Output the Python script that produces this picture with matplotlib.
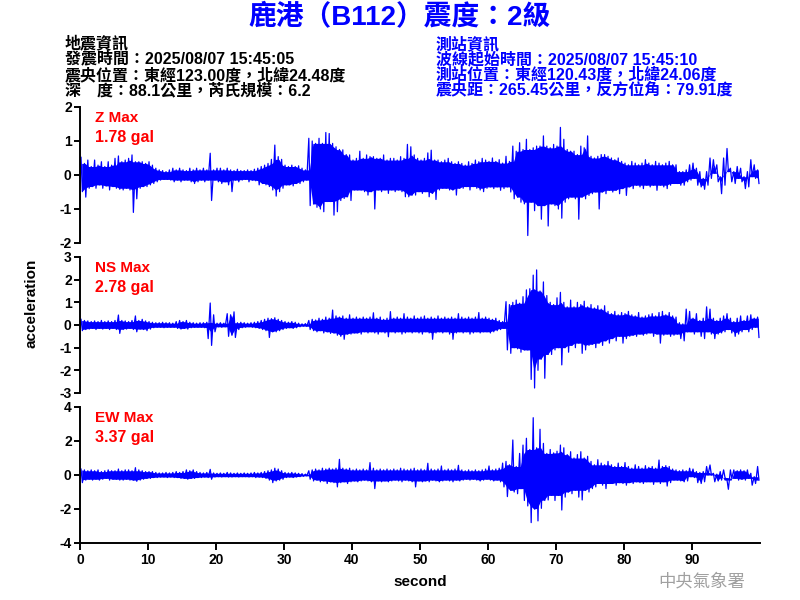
import numpy as np
import matplotlib
matplotlib.use("Agg")
import matplotlib.pyplot as plt

plt.rcParams['font.family'] = ['Liberation Sans', 'Noto Sans CJK TC', 'DejaVu Sans']
plt.rcParams['axes.unicode_minus'] = False

# ---------------- data (per 0.5 s bin: upper / lower peak, gal) ----------------
bin_step = 0.5
z_hi = [0.52,0.34,0.44,0.25,0.44,0.29,0.39,0.25,0.39,0.29,
        0.49,0.56,0.39,0.44,0.49,0.59,0.39,0.39,0.39,0.34,
        0.39,0.29,0.20,0.15,0.13,0.10,0.15,0.20,0.15,0.20,
        0.15,0.13,0.20,0.15,0.20,0.15,0.20,0.15,0.64,0.15,
        0.20,0.20,0.15,0.20,0.15,0.13,0.17,0.13,0.13,0.15,
        0.13,0.17,0.20,0.25,0.29,0.34,0.46,0.88,0.54,0.46,
        0.29,0.25,0.29,0.25,0.27,0.20,0.15,1.08,1.00,0.93,
        1.08,0.93,1.25,1.22,0.93,0.83,0.75,0.74,0.60,0.59,
        0.44,0.49,0.70,0.49,0.59,0.54,0.54,0.49,0.49,0.59,
        0.44,0.49,0.49,0.44,0.54,0.49,0.90,0.83,0.59,0.49,
        0.44,0.49,0.65,0.73,0.44,0.44,0.39,0.44,0.49,0.39,
        0.34,0.39,0.34,0.29,0.39,0.34,0.44,0.39,0.49,0.44,
        0.40,0.50,0.40,0.45,0.35,0.55,0.40,0.85,0.70,0.95,
        0.75,1.05,0.75,0.80,0.85,0.85,1.15,0.85,0.80,0.90,
        0.85,1.40,1.05,0.75,0.70,0.70,0.60,0.85,0.80,1.15,
        0.55,0.50,0.55,0.60,0.60,0.55,0.50,0.45,0.50,0.40,
        0.35,0.30,0.40,0.35,0.30,0.35,0.45,0.35,0.30,0.40,
        0.35,0.30,0.35,0.40,0.30,0.30,0.10,0.10,0.15,0.30,
        0.35,0.20,0.10,-0.10,0.10,0.50,0.45,0.30,-0.05,0.50,
        0.78,0.20,0.10,0.25,0.20,-0.05,0.10,0.45,0.30,0.15]
z_lo = [-0.49,-0.65,-0.39,-0.34,-0.39,-0.29,-0.39,-0.32,-0.44,-0.34,
        -0.39,-0.42,-0.44,-0.39,-0.44,-1.10,-0.70,-0.39,-0.34,-0.34,
        -0.29,-0.25,-0.20,-0.15,-0.13,-0.13,-0.15,-0.20,-0.15,-0.20,
        -0.15,-0.15,-0.20,-0.25,-0.20,-0.15,-0.20,-0.15,-0.75,-0.15,
        -0.20,-0.25,-0.20,-0.29,-0.49,-0.15,-0.20,-0.15,-0.13,-0.20,
        -0.15,-0.17,-0.29,-0.25,-0.29,-0.34,-0.44,-0.62,-0.49,-0.39,
        -0.29,-0.29,-0.32,-0.25,-0.25,-0.20,-0.15,-0.90,-0.85,-0.95,
        -1.00,-1.08,-0.78,-0.78,-1.18,-1.08,-0.75,-0.69,-0.64,-0.75,
        -0.44,-0.44,-0.44,-0.49,-0.59,-0.49,-1.00,-0.44,-0.49,-0.44,
        -0.54,-0.44,-0.49,-0.44,-0.49,-0.64,-0.64,-0.59,-0.59,-0.49,
        -0.54,-0.49,-0.64,-0.54,-0.72,-0.44,-0.39,-0.39,-0.44,-0.44,
        -0.59,-0.39,-0.39,-0.34,-0.44,-0.34,-0.39,-0.44,-0.49,-0.39,
        -0.35,-0.40,-0.35,-0.45,-0.40,-0.35,-0.50,-0.70,-0.65,-0.80,
        -0.85,-1.78,-0.80,-1.05,-0.90,-1.30,-0.90,-1.50,-0.85,-0.90,
        -1.00,-1.27,-0.80,-0.70,-0.65,-0.70,-1.30,-0.65,-0.70,-0.60,
        -0.55,-0.50,-1.00,-0.50,-0.55,-0.45,-0.50,-0.45,-0.55,-0.40,
        -0.60,-0.35,-0.40,-0.30,-0.35,-0.40,-0.30,-0.35,-0.30,-0.45,
        -0.30,-0.35,-0.40,-0.30,-0.25,-0.25,-0.30,-0.30,-0.20,-0.15,
        -0.10,-0.30,-0.35,-0.42,-0.30,-0.10,0.05,-0.20,-0.55,-0.30,
        0.10,-0.20,-0.25,-0.10,-0.20,-0.40,-0.35,-0.05,-0.10,-0.25]

ns_hi = [0.25,0.20,0.18,0.15,0.18,0.15,0.20,0.15,0.18,0.15,
         0.20,0.44,0.20,0.18,0.15,0.20,0.40,0.20,0.25,0.18,
         0.15,0.12,0.10,0.10,0.12,0.10,0.10,0.08,0.15,0.20,
         0.15,0.20,0.12,0.10,0.08,0.10,0.10,0.12,0.97,0.45,
         0.08,0.10,0.08,0.50,0.45,0.58,0.10,0.12,0.10,0.08,
         0.10,0.12,0.15,0.20,0.25,0.30,0.28,0.32,0.25,0.20,
         0.15,0.12,0.15,0.12,0.08,0.05,0.06,0.20,0.25,0.22,
         0.30,0.25,0.35,0.30,0.66,0.40,0.35,0.40,0.30,0.45,
         0.30,0.35,0.30,0.35,0.30,0.35,0.54,0.30,0.35,0.25,
         0.30,0.59,0.30,0.35,0.30,0.50,0.35,0.30,0.40,0.30,
         0.35,0.40,0.30,0.35,0.30,0.40,0.30,0.35,0.30,0.35,
         0.30,0.50,0.35,0.30,0.35,0.30,0.35,0.55,0.30,0.35,
         0.30,0.25,0.30,0.20,0.15,1.03,0.90,1.00,1.10,0.96,
         1.25,1.55,1.60,2.20,2.43,1.50,1.90,1.30,1.00,0.90,
         1.20,1.44,1.00,0.80,1.10,0.80,1.00,0.90,1.05,0.80,
         0.90,0.75,0.85,0.70,0.85,0.60,0.50,0.60,0.45,0.55,
         0.50,0.60,0.45,0.40,0.55,0.35,0.40,0.45,0.50,0.40,
         0.55,0.60,0.45,0.55,0.40,0.35,0.10,0.05,0.70,0.60,
         0.30,0.50,0.20,0.30,0.80,0.70,0.30,0.20,0.30,0.40,
         0.50,0.30,0.15,0.30,0.40,0.20,0.40,0.45,0.30,0.35]
ns_lo = [-0.25,-0.20,-0.18,-0.15,-0.20,-0.15,-0.18,-0.15,-0.20,-0.15,
         -0.20,-0.37,-0.20,-0.18,-0.15,-0.20,-0.30,-0.18,-0.20,-0.25,
         -0.18,-0.12,-0.10,-0.10,-0.12,-0.10,-0.10,-0.10,-0.15,-0.18,
         -0.15,-0.18,-0.12,-0.10,-0.10,-0.10,-0.12,-0.60,-0.90,-0.30,
         -0.08,-0.10,-0.08,-0.50,-0.45,-0.55,-0.20,-0.12,-0.10,-0.08,
         -0.10,-0.12,-0.15,-0.20,-0.25,-0.55,-0.30,-0.30,-0.25,-0.20,
         -0.15,-0.12,-0.15,-0.12,-0.08,-0.05,-0.06,-0.20,-0.25,-0.30,
         -0.25,-0.35,-0.30,-0.37,-0.35,-0.45,-0.50,-0.63,-0.40,-0.40,
         -0.35,-0.35,-0.40,-0.30,-0.35,-0.30,-0.35,-0.40,-0.30,-0.35,
         -0.52,-0.30,-0.35,-0.30,-0.40,-0.35,-0.30,-0.35,-0.30,-0.35,
         -0.40,-0.30,-0.35,-0.63,-0.35,-0.30,-0.35,-0.30,-0.40,-0.63,
         -0.35,-0.30,-0.35,-0.30,-0.40,-0.35,-0.30,-0.35,-0.30,-0.30,
         -0.35,-0.30,-0.25,-0.20,-0.15,-1.10,-1.25,-1.00,-1.05,-1.20,
         -1.10,-1.10,-2.40,-2.78,-2.00,-1.50,-2.35,-1.30,-1.30,-1.10,
         -1.00,-1.76,-1.00,-1.20,-0.90,-1.00,-0.80,-1.25,-1.10,-0.90,
         -0.85,-1.00,-0.80,-0.90,-0.70,-0.80,-0.60,-0.70,-0.50,-0.80,
         -0.60,-0.50,-0.45,-0.50,-0.40,-0.45,-0.40,-0.35,-0.50,-0.40,
         -0.80,-0.45,-0.40,-0.50,-0.45,-0.40,-0.60,-0.70,-0.30,-0.30,
         -0.40,-0.30,-0.50,-0.60,-0.30,-0.40,-0.60,-0.40,-0.35,-0.30,
         -0.20,-0.35,-0.50,-0.40,-0.30,-0.20,-0.30,-0.20,-0.10,-0.55]

ew_hi = [0.35,0.30,0.25,0.30,0.25,0.30,0.20,0.25,0.30,0.25,
         0.25,0.35,0.25,0.30,0.30,0.25,0.43,0.30,0.25,0.20,
         0.20,0.20,0.15,0.12,0.12,0.15,0.12,0.15,0.20,0.15,
         0.20,0.30,0.25,0.30,0.20,0.15,0.12,0.15,0.33,0.12,
         0.10,0.12,0.10,0.15,0.12,0.10,0.12,0.10,0.12,0.10,
         0.12,0.15,0.12,0.15,0.20,0.25,0.30,0.40,0.35,0.25,
         0.15,0.12,0.15,0.12,0.10,0.08,0.05,0.25,0.30,0.35,
         0.30,0.40,0.35,0.40,0.35,0.40,0.92,0.40,0.35,0.40,
         0.30,0.35,0.30,0.35,0.30,0.73,0.40,0.30,0.35,0.30,
         0.35,0.30,0.35,0.30,0.40,0.35,0.30,0.35,0.40,0.30,
         0.35,0.30,0.69,0.35,0.30,0.35,0.53,0.30,0.35,0.30,
         0.35,0.57,0.30,0.25,0.30,0.25,0.30,0.25,0.30,0.35,
         0.53,0.30,0.35,0.40,0.70,0.80,0.60,2.06,0.50,1.27,
         1.76,2.16,1.50,3.37,1.60,2.69,1.86,1.27,1.50,1.30,
         1.40,1.76,1.60,1.20,1.37,1.00,1.20,1.37,1.00,1.10,
         0.80,0.60,0.90,0.70,0.60,0.80,0.60,0.50,0.70,0.50,
         0.73,0.50,0.40,0.60,0.50,0.40,0.55,0.45,0.50,0.40,
         0.88,0.50,0.55,0.50,0.35,0.30,0.25,0.30,0.25,0.40,
         0.35,0.20,0.15,0.20,0.50,0.59,0.10,0.05,0.20,0.30,
         -0.30,0.30,0.30,0.25,0.30,0.25,0.30,0.10,-0.10,0.50]
ew_lo = [-0.45,-0.30,-0.25,-0.30,-0.25,-0.30,-0.25,-0.20,-0.30,-0.25,
         -0.25,-0.30,-0.30,-0.25,-0.30,-0.30,-0.37,-0.30,-0.25,-0.20,
         -0.20,-0.15,-0.15,-0.12,-0.12,-0.15,-0.12,-0.15,-0.15,-0.20,
         -0.20,-0.25,-0.20,-0.20,-0.15,-0.15,-0.12,-0.15,-0.25,-0.12,
         -0.10,-0.12,-0.10,-0.12,-0.12,-0.10,-0.12,-0.10,-0.10,-0.12,
         -0.10,-0.15,-0.12,-0.15,-0.20,-0.30,-0.45,-0.35,-0.30,-0.25,
         -0.15,-0.12,-0.15,-0.12,-0.10,-0.08,-0.05,-0.25,-0.35,-0.30,
         -0.40,-0.35,-0.50,-0.40,-0.45,-0.70,-0.45,-0.40,-0.50,-0.40,
         -0.35,-0.40,-0.35,-0.30,-0.35,-0.40,-0.80,-0.35,-0.40,-0.35,
         -0.40,-0.35,-0.30,-0.35,-0.40,-0.30,-0.35,-0.40,-0.70,-0.35,
         -0.40,-0.35,-0.40,-0.30,-0.35,-0.40,-0.35,-0.30,-0.35,-0.40,
         -0.30,-0.35,-0.30,-0.25,-0.30,-0.25,-0.30,-0.35,-0.30,-0.25,
         -0.30,-0.35,-0.30,-0.40,-0.70,-1.27,-0.90,-1.00,-1.10,-0.80,
         -1.50,-1.82,-2.80,-2.00,-2.70,-1.96,-1.50,-1.47,-1.20,-1.50,
         -1.20,-2.06,-1.30,-1.00,-1.10,-0.90,-1.30,-1.47,-0.90,-1.00,
         -0.80,-0.70,-0.50,-0.60,-0.80,-0.50,-0.50,-0.60,-0.45,-0.50,
         -0.60,-0.45,-0.50,-0.40,-0.45,-0.50,-0.40,-0.40,-0.55,-0.40,
         -0.50,-0.40,-0.65,-0.45,-0.30,-0.30,-0.35,-0.40,-0.35,-0.10,
         -0.15,-0.45,-0.50,-0.40,0.00,0.00,-0.40,-0.35,-0.30,-0.15,
         -0.84,-0.20,-0.20,-0.30,-0.25,-0.30,-0.20,-0.60,-0.50,-0.30]

components = ["Z", "NS", "EW"]
max_labels = ["1.78 gal", "2.78 gal", "3.37 gal"]
y_limits = [(-2, 2), (-3, 3), (-4, 4)]
y_ticks = [[-2, -1, 0, 1, 2], [-3, -2, -1, 0, 1, 2, 3], [-4, -2, 0, 2, 4]]
x_ticks = [0, 10, 20, 30, 40, 50, 60, 70, 80, 90]

title = "鹿港（B112）震度：2級"
quake_info = ["地震資訊",
              "發震時間：2025/08/07 15:45:05",
              "震央位置：東經123.00度，北緯24.48度",
              "深　度：88.1公里，芮氏規模：6.2"]
station_info = ["測站資訊",
                "波線起始時間：2025/08/07 15:45:10",
                "測站位置：東經120.43度，北緯24.06度",
                "震央距：265.45公里，反方位角：79.91度"]

series = [(z_hi, z_lo), (ns_hi, ns_lo), (ew_hi, ew_lo)]

# ---------------- figure ----------------
W, H = 800, 600
fig = plt.figure(figsize=(8, 6), dpi=100)

def fx(px):
    return px / W

def fy(py):
    return 1 - py / H

def neighbour_min(a):
    p = np.pad(a, 1, mode="edge")
    return np.minimum(np.minimum(p[:-2], p[1:-1]), p[2:])

def neighbour_max(a):
    p = np.pad(a, 1, mode="edge")
    return np.maximum(np.maximum(p[:-2], p[1:-1]), p[2:])

panel_px = [(107, 243), (257, 393), (407, 543)]
left_px, right_px = 80, 760
blue = "#0000FF"

axes = []
for i, (top, bot) in enumerate(panel_px):
    ax = fig.add_axes([fx(left_px), fy(bot), (right_px - left_px) / W, (bot - top) / H])
    hi = np.asarray(series[i][0])
    lo = np.asarray(series[i][1])
    n = len(hi)
    tc = np.arange(n) * bin_step + bin_step / 2
    # solid core: the part of the band shared with neighbouring bins
    core_hi = neighbour_min(hi)
    core_lo = neighbour_max(lo)
    ax.fill_between(tc, core_lo, core_hi, color=blue, linewidth=0)
    # trace joining the peaks of each bin (spikes)
    xs = np.empty(2 * n)
    ys = np.empty(2 * n)
    xs[0::2] = tc - bin_step * 0.2
    xs[1::2] = tc + bin_step * 0.2
    ys[0::2] = hi
    ys[1::2] = lo
    ax.plot(xs, ys, color=blue, lw=0.9)
    ax.set_xlim(0, 100)
    ax.set_ylim(*y_limits[i])
    ax.set_yticks(y_ticks[i])
    ax.set_yticklabels([str(v) for v in y_ticks[i]])
    for s in ["top", "right"]:
        ax.spines[s].set_visible(False)
    ax.spines["left"].set_linewidth(1.4)
    ax.tick_params(axis="y", direction="out", length=4, width=1.4, labelsize=10, pad=2)
    for lab in ax.get_yticklabels():
        lab.set_fontweight("bold")
    if i < 2:
        ax.spines["bottom"].set_visible(False)
        ax.set_xticks([])
    else:
        ax.spines["bottom"].set_linewidth(1.4)
        ax.set_xticks(x_ticks)
        ax.set_xticklabels([str(v) for v in x_ticks])
        ax.tick_params(axis="x", direction="out", length=5, width=1.4, labelsize=10, pad=2)
        for lab in ax.get_xticklabels():
            lab.set_fontweight("bold")
    ax.text(0.022, 0.92, f"{components[i]} Max", transform=ax.transAxes, color="red",
            fontsize=11, fontweight="bold", va="center", ha="left")
    ax.text(0.022, 0.775, max_labels[i], transform=ax.transAxes, color="red",
            fontsize=11.5, fontweight="bold", va="center", ha="left")
    axes.append(ax)

axes[2].set_xlabel("second", fontsize=11, fontweight="bold", labelpad=6)
fig.text(fx(32), fy(303), "acceleration", rotation=90, fontsize=11, fontweight="bold",
         ha="center", va="center")

fig.text(0.5, fy(18), title, color=blue, fontsize=20, fontweight="bold", ha="center", va="center")

left_y = [43, 59, 75, 91]
right_y = [44, 59, 75, 90]
for s, y in zip(quake_info, left_y):
    fig.text(fx(65), fy(y), s, fontsize=11.5, fontweight="bold", color="black", ha="left", va="center")
for s, y in zip(station_info, right_y):
    fig.text(fx(436), fy(y), s, fontsize=11.5, fontweight="bold", color=blue, ha="left", va="center")

fig.text(fx(702), fy(581), "中央氣象署", fontsize=12.5, color="#A0A0A0", ha="center", va="center",
         family=["Noto Sans CJK TC"])

fig.savefig("out.png", dpi=100)
